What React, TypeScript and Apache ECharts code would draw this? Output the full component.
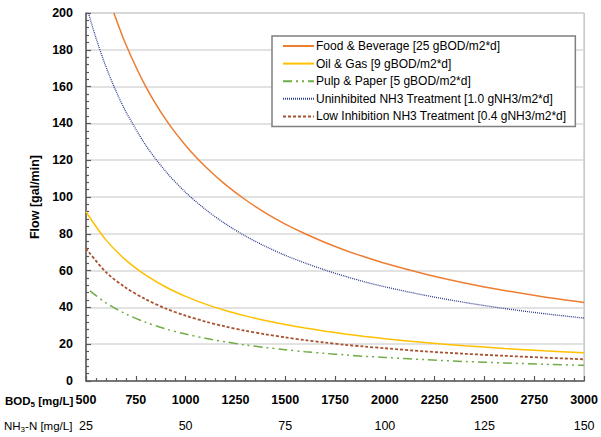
import React, { useEffect, useRef } from "react";
import * as echarts from "echarts";

const bodFB = [640, 700, 800, 900, 1000, 1100, 1200, 1300, 1400, 1500, 1600, 1700, 1800, 1900, 2000, 2200, 2400, 2600, 2800, 3000];
const flowFB = [200, 182.9, 160, 142.2, 128, 116.4, 106.7, 98.5, 91.4, 85.3, 80, 75.3, 71.1, 67.4, 64, 58.2, 53.3, 49.2, 45.7, 42.7];

const bodStd = [500, 600, 700, 800, 900, 1000, 1100, 1200, 1300, 1400, 1500, 1600, 1700, 1800, 1900, 2000, 2200, 2400, 2600, 2800, 3000];
const flowOG = [92, 76.7, 65.7, 57.5, 51.1, 46, 41.8, 38.3, 35.4, 32.9, 30.7, 28.8, 27.1, 25.6, 24.2, 23, 20.9, 19.2, 17.7, 16.4, 15.3];
const flowLI = [72, 59.2, 50.7, 44.4, 39.4, 35.5, 32.3, 29.6, 27.3, 25.4, 23.7, 22.2, 20.9, 19.7, 18.7, 17.8, 16.1, 14.8, 13.7, 12.7, 11.8];

const bodPP = [520, 600, 700, 800, 900, 1000, 1100, 1200, 1300, 1400, 1500, 1600, 1700, 1800, 1900, 2000, 2200, 2400, 2600, 2800, 3000];
const flowPP = [49, 42.5, 36.4, 31.9, 28.3, 25.5, 23.2, 21.3, 19.6, 18.2, 17, 15.9, 15, 14.2, 13.4, 12.8, 11.6, 10.6, 9.8, 9.1, 8.5];

const bodUN = [512, 550, 600, 650, 700, 800, 900, 1000, 1100, 1200, 1300, 1400, 1500, 1600, 1700, 1800, 1900, 2000, 2200, 2400, 2600, 2800, 3000];
const flowUN = [200, 186.4, 170.8, 157.7, 146.4, 128.1, 113.9, 102.5, 93.2, 85.4, 78.8, 73.2, 68.3, 64.1, 60.3, 56.9, 53.9, 51.2, 46.6, 42.7, 39.4, 36.6, 34.2];

const seriesNames = [
  "Food & Beverage [25 gBOD/m2*d]",
  "Oil & Gas [9 gBOD/m2*d]",
  "Pulp & Paper [5 gBOD/m2*d]",
  "Uninhibited NH3 Treatment [1.0 gNH3/m2*d]",
  "Low Inhibition NH3 Treatment [0.4 gNH3/m2*d]",
];

const FONT = "Liberation Sans";

function pairs(xs: number[], ys: number[]) {
  return xs.map((x, i) => [x, ys[i]]);
}

export default function App() {
  const ref = useRef<HTMLDivElement>(null);
  useEffect(() => {
    if (!ref.current) return;
    const chart = echarts.init(ref.current, undefined, { renderer: "svg" });
    const mk = (name: string, data: number[][], color: string, type: any, width: number) => ({
      name,
      type: "line",
      data,
      smooth: 0.3,
      showSymbol: false,
      symbol: "none",
      clip: true,
      lineStyle: { color, width, type },
      itemStyle: { color },
    });
    chart.setOption({
      animation: false,
      backgroundColor: "#ffffff",
      textStyle: { fontFamily: FONT },
      grid: {
        left: 86,
        right: 15,
        top: 13,
        bottom: 56,
        show: true,
        borderColor: "#a6a6a6",
        borderWidth: 1,
        containLabel: false,
      },
      legend: {
        orient: "vertical",
        left: 272,
        top: 36,
        padding: [4, 9, 4, 10],
        itemWidth: 31,
        itemHeight: 8,
        itemGap: 5.6,
        borderColor: "#7f7f7f",
        borderWidth: 1.5,
        backgroundColor: "#ffffff",
        itemStyle: { opacity: 0 },
        textStyle: { fontFamily: FONT, fontSize: 12, color: "#000", padding: [0, 0, 0, -3] },
        data: seriesNames,
      },
      xAxis: [
        {
          type: "value",
          min: 500,
          max: 3000,
          interval: 250,
          axisLine: { show: true, lineStyle: { color: "#595959", width: 1.5 } },
          axisTick: { show: true, inside: true, length: 5, lineStyle: { color: "#595959", width: 1.2 } },
          minorTick: { show: true, splitNumber: 5, length: 3, lineStyle: { color: "#595959", width: 1.2 } },
          splitLine: { show: false },
          axisLabel: {
            fontFamily: FONT, fontSize: 12.5, fontWeight: "bold", color: "#000", margin: 12,
            formatter: (v: number) => String(v),
          },
        },
        {
          type: "value",
          min: 25,
          max: 150,
          interval: 25,
          position: "bottom",
          offset: 26,
          axisLine: { show: false },
          axisTick: { show: false },
          splitLine: { show: false },
          axisLabel: { fontFamily: FONT, fontSize: 12.5, color: "#000", margin: 12, formatter: (v: number) => String(v) },
        },
      ],
      yAxis: {
        type: "value",
        min: 0,
        max: 200,
        interval: 20,
        name: "Flow [gal/min]",
        nameLocation: "middle",
        nameGap: 44,
        nameTextStyle: { fontFamily: FONT, fontSize: 12.5, fontWeight: "bold", color: "#000" },
        axisLine: { show: true, lineStyle: { color: "#595959", width: 1.5 } },
        axisTick: { show: true, inside: true, length: 5, lineStyle: { color: "#595959", width: 1.2 } },
        minorTick: { show: true, splitNumber: 5, length: 3, lineStyle: { color: "#595959", width: 1.2 } },
        splitLine: { show: true, lineStyle: { color: "#d9d9d9", width: 1.5 } },
        axisLabel: { fontFamily: FONT, fontSize: 12.5, fontWeight: "bold", color: "#000", margin: 13 },
      },
      graphic: [
        {
          type: "text",
          left: 5,
          top: 395,
          style: {
            text: "{a|BOD}{s|5}{a| [mg/L]}",
            rich: {
              a: { fontFamily: FONT, fontSize: 11.5, fontWeight: "bold", fill: "#000" },
              s: { fontFamily: FONT, fontSize: 8, fontWeight: "bold", fill: "#000", verticalAlign: "bottom", padding: [6, 0, 0, 0] },
            },
          },
        },
        {
          type: "text",
          left: 4,
          top: 420,
          style: {
            text: "{a|NH}{s|3}{a|-N [mg/L]}",
            rich: {
              a: { fontFamily: FONT, fontSize: 11.5, fill: "#000" },
              s: { fontFamily: FONT, fontSize: 8, fill: "#000", verticalAlign: "bottom", padding: [6, 0, 0, 0] },
            },
          },
        },
      ],
      series: [
        mk(seriesNames[0], pairs(bodFB, flowFB), "#ed7d31", "solid", 1.5),
        mk(seriesNames[1], pairs(bodStd, flowOG), "#ffc000", "solid", 1.5),
        mk(seriesNames[2], pairs(bodPP, flowPP), "#70ad47", [9, 4, 2, 4, 2, 4], 1.5),
        mk(seriesNames[3], pairs(bodUN, flowUN), "#2f3e8e", [1, 1], 1.3),
        mk(seriesNames[4], pairs(bodStd, flowLI), "#a9522f", [3, 2], 1.8),
      ],
    });
    return () => chart.dispose();
  }, []);
  return (
    <div
      ref={ref}
      style={{ position: "fixed", left: 0, top: 0, width: 601, height: 437 }}
    />
  );
}
